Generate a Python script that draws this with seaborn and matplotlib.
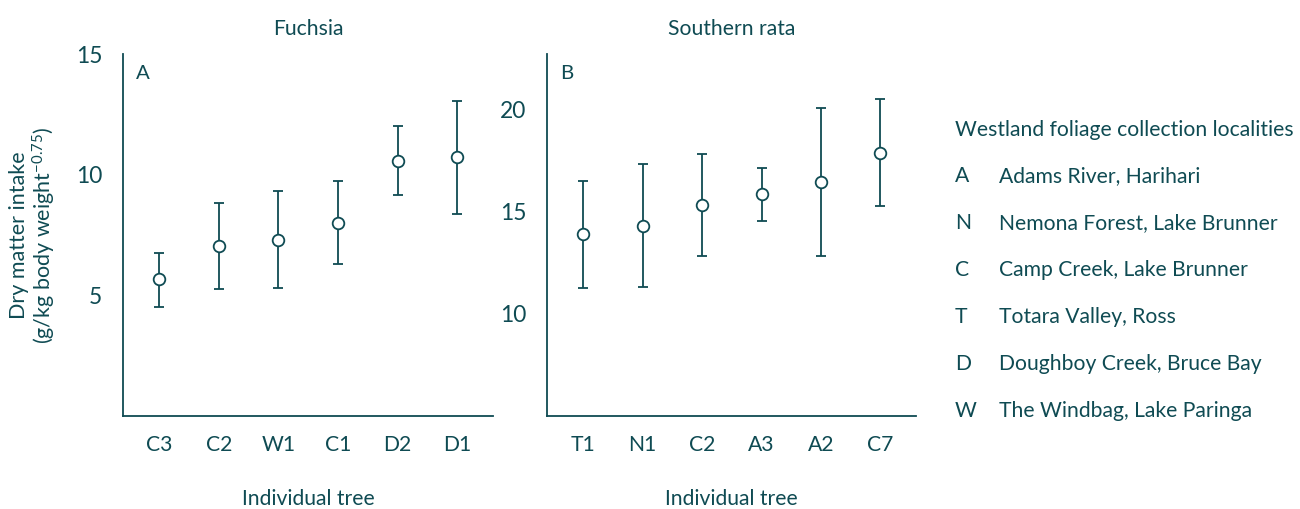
import numpy as np
import pandas as pd
import matplotlib
matplotlib.use("Agg")
from matplotlib import pyplot as plt
import seaborn as sns

# Fuchsia (panel A)
fuchsia_trees = ["C3", "C2", "W1", "C1", "D2", "D1"]
fuchsia_mean = [5.68, 7.05, 7.31, 8.00, 10.57, 10.73]
fuchsia_low = [4.52, 5.28, 5.29, 6.29, 9.15, 8.39]
fuchsia_high = [6.77, 8.83, 9.34, 9.72, 12.00, 13.05]

# Southern rata (panel B)
rata_trees = ["T1", "N1", "C2", "A3", "A2", "C7"]
rata_mean = [13.89, 14.31, 15.32, 15.85, 16.45, 17.88]
rata_low = [11.24, 11.30, 12.82, 14.56, 12.85, 15.28]
rata_high = [16.51, 17.33, 17.82, 17.15, 20.06, 20.49]

loc_codes = ["A", "N", "C", "T", "D", "W"]
loc_names = ["Adams River, Harihari", "Nemona Forest, Lake Brunner",
             "Camp Creek, Lake Brunner", "Totara Valley, Ross",
             "Doughboy Creek, Bruce Bay", "The Windbag, Lake Paringa"]

ink = "#0f4b53"
fs = 15.2

sns.set_style("white")
plt.rcParams["font.family"] = ["Lato", "DejaVu Sans"]
plt.rcParams["mathtext.fontset"] = "custom"
plt.rcParams["mathtext.rm"] = "Lato"
plt.rcParams["mathtext.it"] = "Lato"

fig = plt.figure(figsize=(13, 5.09), dpi=100)
axA = fig.add_axes([0.0946, 0.1827, 0.2846, 0.711])
axB = fig.add_axes([0.4208, 0.1827, 0.2838, 0.711])


def panel(ax, trees, mean, low, high, title, letter, ylim, yticks):
    df = pd.DataFrame({"tree": trees, "mean": mean, "low": low, "high": high})
    err = [df["mean"] - df["low"], df["high"] - df["mean"]]
    ax.errorbar(df["tree"], df["mean"], yerr=err, fmt="none", ecolor=ink,
                elinewidth=1.3, capsize=3.5, capthick=1.3, zorder=2)
    sns.scatterplot(data=df, x="tree", y="mean", ax=ax, s=70, marker="o",
                    facecolor="white", edgecolor=ink, linewidth=1.3, zorder=3)
    ax.set_xlim(-0.61, 5.6)
    ax.set_ylim(*ylim)
    ax.set_yticks(yticks)
    ax.set_title(title, fontsize=fs, color=ink, pad=14)
    ax.set_xlabel("Individual tree", fontsize=fs, color=ink, labelpad=24)
    ax.set_ylabel("")
    ax.text(0.035, 0.97, letter, transform=ax.transAxes, fontsize=fs - 0.5,
            color=ink, va="top", ha="left")
    for s in ["top", "right"]:
        ax.spines[s].set_visible(False)
    for s in ["left", "bottom"]:
        ax.spines[s].set_color(ink)
        ax.spines[s].set_linewidth(1.3)
    ax.tick_params(axis="both", direction="out", length=6, width=1.3,
                   color=ink, labelcolor=ink, labelsize=fs, pad=8)
    ax.tick_params(axis="y", pad=9, labelsize=fs + 1.2)


panel(axA, fuchsia_trees, fuchsia_mean, fuchsia_low, fuchsia_high,
      "Fuchsia", "A", (0, 15), [5, 10, 15])
panel(axB, rata_trees, rata_mean, rata_low, rata_high,
      "Southern rata", "B", (5, 22.7), [10, 15, 20])

axA.set_ylabel("Dry matter intake\n(g/kg body weight$^{\\mathregular{-0.75}}$)",
               fontsize=fs + 0.3, color=ink, labelpad=13, linespacing=1.05)

# locality key
fig.text(955 / 1300, 1 - 130 / 509, "Westland foliage collection localities",
         fontsize=fs, color=ink, va="center", ha="left")
for i, (c, n) in enumerate(zip(loc_codes, loc_names)):
    y = 1 - (176 + i * 47) / 509
    fig.text(955 / 1300, y, c, fontsize=fs, color=ink, va="center", ha="left")
    fig.text(999 / 1300, y, n, fontsize=fs, color=ink, va="center", ha="left")

fig.savefig("out.png", dpi=100)
